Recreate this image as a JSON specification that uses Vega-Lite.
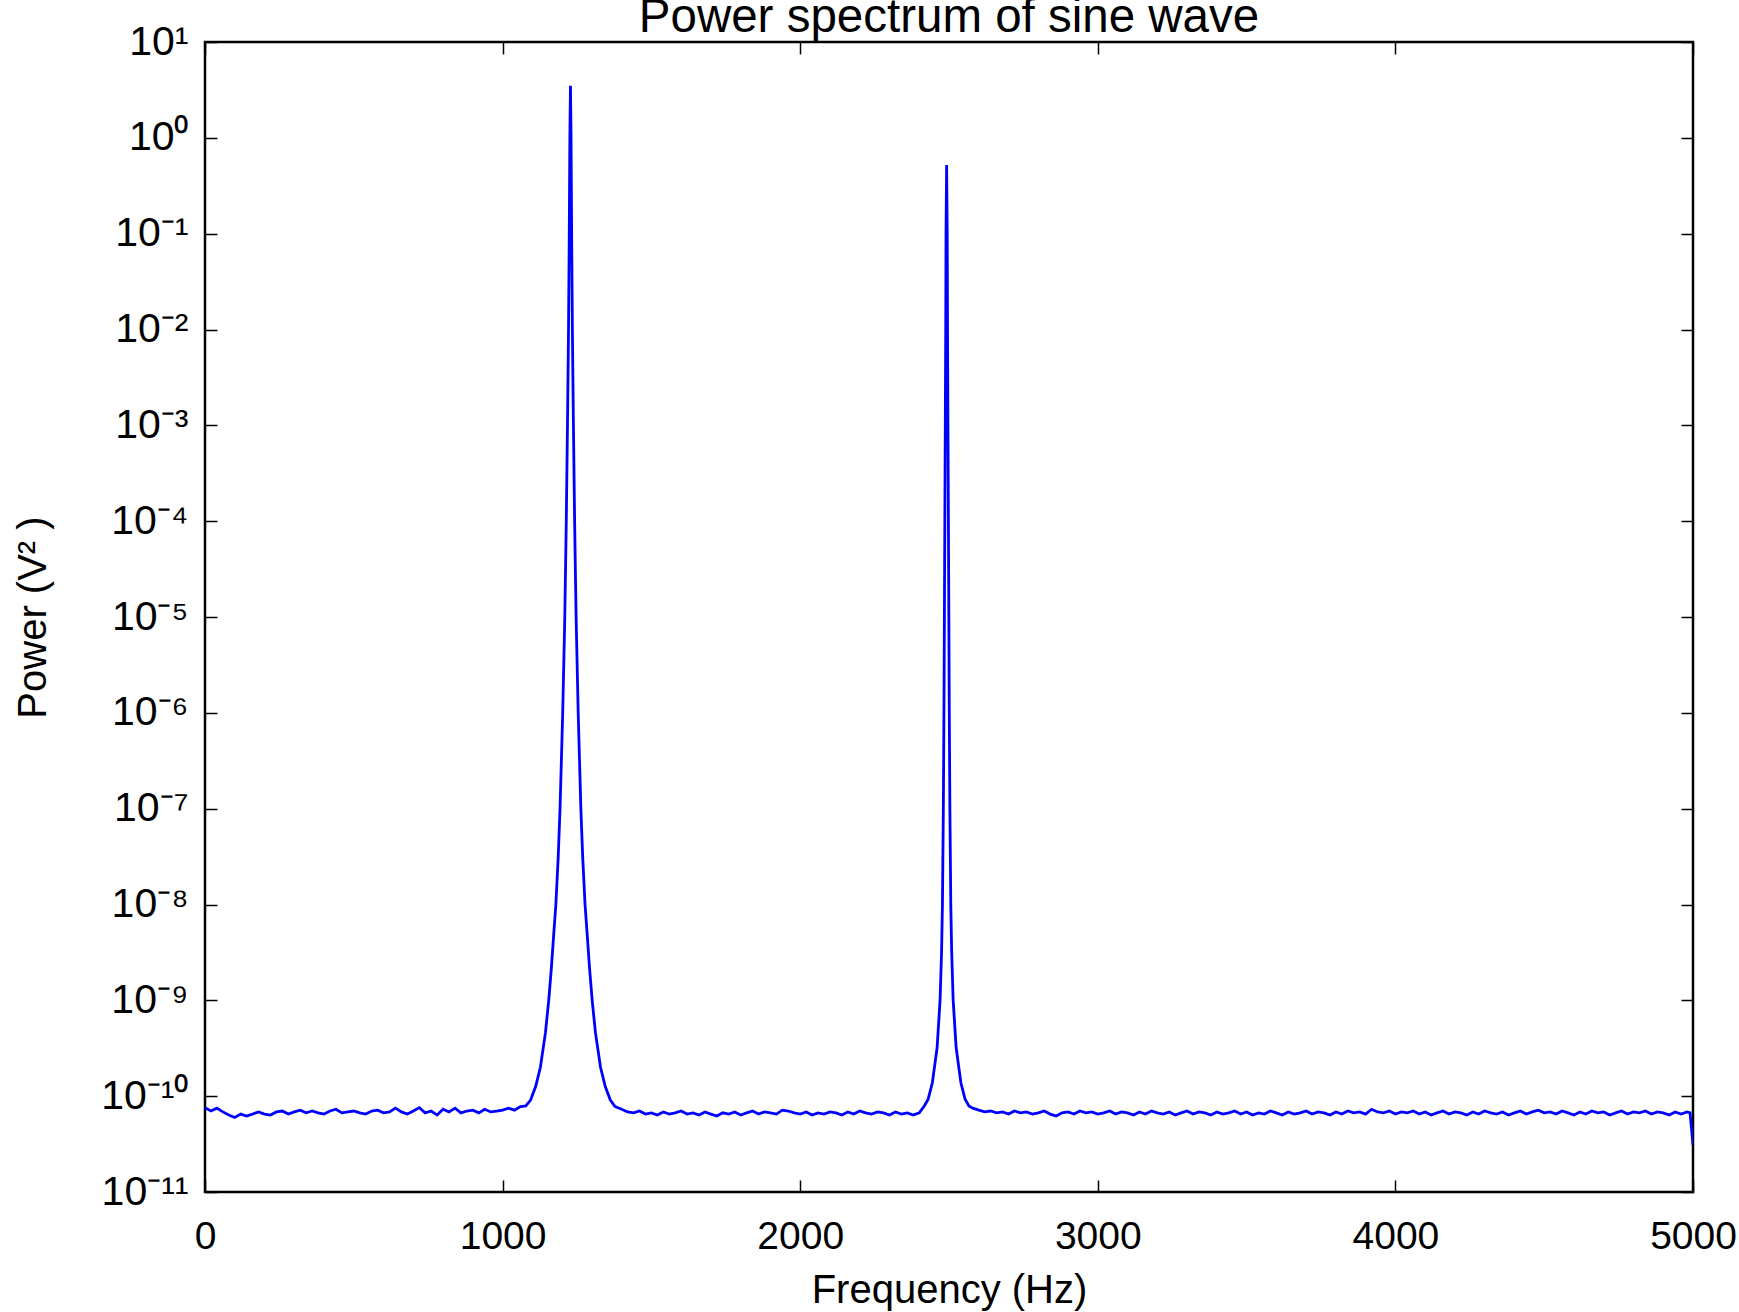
{
 "$schema": "https://vega.github.io/schema/vega-lite/v6.json",
 "width": 1488,
 "height": 1150,
 "autosize": {"type": "none"},
 "padding": {"left": 205, "top": 42, "right": 46, "bottom": 120},
 "background": "white",
 "title": {"text": "Power spectrum of sine wave", "fontSize": 47.5, "font": "Liberation Sans", "fontWeight": "normal", "color": "black", "anchor": "middle", "frame": "group", "offset": -20},
 "config": {
  "view": {"stroke": "black", "strokeWidth": 2.5},
  "axis": {"domain": false, "grid": false, "tickColor": "black", "tickWidth": 1.5, "tickSize": -12, "labelColor": "black", "titleColor": "black", "labelFont": "Liberation Sans", "titleFont": "Liberation Sans", "titleFontWeight": "normal", "labelOverlap": false, "labelFlush": false}
 },
 "data": {"values": [
  {"f":0,"p":7.6e-11},{"f":20,"p":7.0e-11},{"f":40,"p":7.5e-11},{"f":60,"p":6.85e-11},{"f":80,"p":6.35e-11},{"f":100,"p":6.0e-11},{"f":120,"p":6.5e-11},{"f":140,"p":6.2e-11},{"f":160,"p":6.5e-11},{"f":180,"p":6.85e-11},
  {"f":200,"p":6.5e-11},{"f":220,"p":6.35e-11},{"f":240,"p":6.85e-11},{"f":260,"p":7.0e-11},{"f":280,"p":6.5e-11},{"f":300,"p":6.85e-11},{"f":320,"p":7.15e-11},{"f":340,"p":6.7e-11},{"f":360,"p":7.0e-11},{"f":380,"p":6.7e-11},
  {"f":400,"p":6.5e-11},{"f":420,"p":7.0e-11},{"f":440,"p":7.3e-11},{"f":460,"p":6.7e-11},{"f":480,"p":6.85e-11},{"f":500,"p":7.0e-11},{"f":520,"p":6.7e-11},{"f":540,"p":6.5e-11},{"f":560,"p":7.0e-11},{"f":580,"p":7.15e-11},
  {"f":600,"p":6.7e-11},{"f":620,"p":6.85e-11},{"f":640,"p":7.5e-11},{"f":660,"p":6.85e-11},{"f":680,"p":6.5e-11},{"f":700,"p":7.0e-11},{"f":720,"p":7.6e-11},{"f":740,"p":6.7e-11},{"f":760,"p":7.0e-11},{"f":780,"p":6.35e-11},
  {"f":800,"p":7.3e-11},{"f":820,"p":6.85e-11},{"f":840,"p":7.5e-11},{"f":860,"p":6.7e-11},{"f":880,"p":7.0e-11},{"f":900,"p":7.15e-11},{"f":920,"p":6.7e-11},{"f":940,"p":7.3e-11},{"f":960,"p":6.85e-11},{"f":980,"p":7.0e-11},
  {"f":1000,"p":7.15e-11},{"f":1020,"p":7.5e-11},{"f":1040,"p":7.15e-11},{"f":1060,"p":7.8e-11},
  {"f":1078,"p":7.9e-11},{"f":1094,"p":9.1e-11},{"f":1111,"p":1.26e-10},{"f":1127,"p":2.0e-10},{"f":1144,"p":4.6e-10},{"f":1155,"p":1.0e-9},{"f":1164,"p":2.2e-9},{"f":1172,"p":5.0e-9},{"f":1179,"p":1.0e-8},{"f":1187,"p":3.2e-8},
  {"f":1193,"p":1.0e-7},{"f":1202,"p":1.0e-6},{"f":1209,"p":1.0e-5},{"f":1214,"p":1.0e-4},{"f":1218,"p":1.0e-3},{"f":1221.5,"p":0.01},{"f":1224,"p":0.1},{"f":1226,"p":1},{"f":1228,"p":3.5},
  {"f":1230,"p":1},{"f":1232,"p":0.1},{"f":1234.5,"p":0.01},{"f":1238,"p":1.0e-3},{"f":1242,"p":1.0e-4},{"f":1247,"p":1.0e-5},{"f":1254,"p":1.0e-6},{"f":1263,"p":1.0e-7},{"f":1269,"p":3.2e-8},{"f":1277,"p":1.0e-8},
  {"f":1284,"p":5.0e-9},{"f":1292,"p":2.2e-9},{"f":1301,"p":1.0e-9},{"f":1312,"p":4.6e-10},{"f":1329,"p":2.0e-10},{"f":1345,"p":1.26e-10},{"f":1362,"p":9.1e-11},{"f":1378,"p":7.8e-11},
  {"f":1400,"p":7.3e-11},{"f":1420,"p":6.85e-11},{"f":1440,"p":6.7e-11},{"f":1460,"p":7.0e-11},{"f":1480,"p":6.5e-11},{"f":1500,"p":6.7e-11},{"f":1520,"p":6.35e-11},{"f":1540,"p":6.85e-11},{"f":1560,"p":6.5e-11},{"f":1580,"p":6.7e-11},
  {"f":1600,"p":7.0e-11},{"f":1620,"p":6.5e-11},{"f":1640,"p":6.7e-11},{"f":1660,"p":6.35e-11},{"f":1680,"p":6.85e-11},{"f":1700,"p":6.5e-11},{"f":1720,"p":6.2e-11},{"f":1740,"p":6.7e-11},{"f":1760,"p":6.5e-11},{"f":1780,"p":6.85e-11},
  {"f":1800,"p":6.35e-11},{"f":1820,"p":6.7e-11},{"f":1840,"p":7.0e-11},{"f":1860,"p":6.5e-11},{"f":1880,"p":6.85e-11},{"f":1900,"p":6.7e-11},{"f":1920,"p":6.5e-11},{"f":1940,"p":7.15e-11},{"f":1960,"p":7.0e-11},{"f":1980,"p":6.7e-11},
  {"f":2000,"p":6.5e-11},{"f":2020,"p":6.85e-11},{"f":2040,"p":6.35e-11},{"f":2060,"p":6.7e-11},{"f":2080,"p":6.5e-11},{"f":2100,"p":6.85e-11},{"f":2120,"p":6.7e-11},{"f":2140,"p":6.35e-11},{"f":2160,"p":6.85e-11},{"f":2180,"p":6.5e-11},
  {"f":2200,"p":7.0e-11},{"f":2220,"p":6.7e-11},{"f":2240,"p":6.5e-11},{"f":2260,"p":6.85e-11},{"f":2280,"p":6.7e-11},{"f":2300,"p":6.35e-11},{"f":2320,"p":6.85e-11},{"f":2340,"p":6.5e-11},{"f":2360,"p":6.7e-11},{"f":2380,"p":6.35e-11},
  {"f":2400,"p":6.7e-11},
  {"f":2417,"p":7.9e-11},{"f":2430,"p":9.3e-11},{"f":2444,"p":1.38e-10},{"f":2460,"p":3.2e-10},{"f":2470,"p":1.0e-9},{"f":2475,"p":3.2e-9},{"f":2478,"p":1.0e-8},{"f":2481,"p":1.0e-7},{"f":2483,"p":1.0e-6},{"f":2484.5,"p":1.0e-5},
  {"f":2486,"p":1.0e-4},{"f":2487.5,"p":1.0e-3},{"f":2489,"p":0.01},{"f":2490,"p":0.1},{"f":2492,"p":0.52},{"f":2494,"p":0.1},{"f":2495,"p":0.01},{"f":2496.5,"p":1.0e-3},{"f":2498,"p":1.0e-4},{"f":2499.5,"p":1.0e-5},
  {"f":2501,"p":1.0e-6},{"f":2503,"p":1.0e-7},{"f":2506,"p":1.0e-8},{"f":2509,"p":3.2e-9},{"f":2514,"p":1.0e-9},{"f":2524,"p":3.2e-10},{"f":2540,"p":1.38e-10},{"f":2554,"p":9.3e-11},{"f":2567,"p":7.9e-11},
  {"f":2580,"p":7.5e-11},{"f":2600,"p":7.15e-11},{"f":2620,"p":6.85e-11},{"f":2640,"p":7.0e-11},{"f":2660,"p":6.7e-11},{"f":2680,"p":6.85e-11},{"f":2700,"p":6.5e-11},{"f":2720,"p":7.0e-11},{"f":2740,"p":6.7e-11},{"f":2760,"p":6.85e-11},
  {"f":2780,"p":6.5e-11},{"f":2800,"p":6.7e-11},{"f":2820,"p":7.0e-11},{"f":2840,"p":6.5e-11},{"f":2860,"p":6.2e-11},{"f":2880,"p":6.7e-11},{"f":2900,"p":6.85e-11},{"f":2920,"p":6.5e-11},{"f":2940,"p":7.0e-11},{"f":2960,"p":6.7e-11},
  {"f":2980,"p":6.85e-11},{"f":3000,"p":6.5e-11},{"f":3020,"p":6.7e-11},{"f":3040,"p":7.0e-11},{"f":3060,"p":6.5e-11},{"f":3080,"p":6.85e-11},{"f":3100,"p":6.7e-11},{"f":3120,"p":6.35e-11},{"f":3140,"p":6.85e-11},{"f":3160,"p":6.5e-11},
  {"f":3180,"p":7.0e-11},{"f":3200,"p":6.7e-11},{"f":3220,"p":6.5e-11},{"f":3240,"p":6.85e-11},{"f":3260,"p":6.35e-11},{"f":3280,"p":6.7e-11},{"f":3300,"p":7.0e-11},{"f":3320,"p":6.5e-11},{"f":3340,"p":6.85e-11},{"f":3360,"p":6.7e-11},
  {"f":3380,"p":6.35e-11},{"f":3400,"p":6.85e-11},{"f":3420,"p":6.5e-11},{"f":3440,"p":6.7e-11},{"f":3460,"p":7.0e-11},{"f":3480,"p":6.5e-11},{"f":3500,"p":6.85e-11},{"f":3520,"p":6.35e-11},{"f":3540,"p":6.7e-11},{"f":3560,"p":6.5e-11},
  {"f":3580,"p":7.0e-11},{"f":3600,"p":6.7e-11},{"f":3620,"p":6.35e-11},{"f":3640,"p":6.85e-11},{"f":3660,"p":6.5e-11},{"f":3680,"p":6.7e-11},{"f":3700,"p":7.0e-11},{"f":3720,"p":6.5e-11},{"f":3740,"p":6.85e-11},{"f":3760,"p":6.7e-11},
  {"f":3780,"p":6.35e-11},{"f":3800,"p":6.85e-11},{"f":3820,"p":6.5e-11},{"f":3840,"p":7.0e-11},{"f":3860,"p":6.7e-11},{"f":3880,"p":6.85e-11},{"f":3900,"p":6.5e-11},{"f":3920,"p":7.3e-11},{"f":3940,"p":6.85e-11},{"f":3960,"p":6.7e-11},
  {"f":3980,"p":7.0e-11},{"f":4000,"p":6.5e-11},{"f":4020,"p":6.85e-11},{"f":4040,"p":6.7e-11},{"f":4060,"p":7.0e-11},{"f":4080,"p":6.5e-11},{"f":4100,"p":6.85e-11},{"f":4120,"p":6.35e-11},{"f":4140,"p":6.7e-11},{"f":4160,"p":7.0e-11},
  {"f":4180,"p":6.5e-11},{"f":4200,"p":6.85e-11},{"f":4220,"p":6.7e-11},{"f":4240,"p":6.35e-11},{"f":4260,"p":6.85e-11},{"f":4280,"p":6.5e-11},{"f":4300,"p":7.0e-11},{"f":4320,"p":6.7e-11},{"f":4340,"p":6.5e-11},{"f":4360,"p":6.85e-11},
  {"f":4380,"p":6.35e-11},{"f":4400,"p":6.7e-11},{"f":4420,"p":7.0e-11},{"f":4440,"p":6.5e-11},{"f":4460,"p":6.85e-11},{"f":4480,"p":7.15e-11},{"f":4500,"p":6.7e-11},{"f":4520,"p":6.85e-11},{"f":4540,"p":6.5e-11},{"f":4560,"p":7.0e-11},
  {"f":4580,"p":6.7e-11},{"f":4600,"p":6.35e-11},{"f":4620,"p":6.85e-11},{"f":4640,"p":6.5e-11},{"f":4660,"p":7.0e-11},{"f":4680,"p":6.7e-11},{"f":4700,"p":6.85e-11},{"f":4720,"p":6.35e-11},{"f":4740,"p":6.7e-11},{"f":4760,"p":7.0e-11},
  {"f":4780,"p":6.5e-11},{"f":4800,"p":6.85e-11},{"f":4820,"p":6.7e-11},{"f":4840,"p":7.0e-11},{"f":4860,"p":6.5e-11},{"f":4880,"p":6.85e-11},{"f":4900,"p":6.7e-11},{"f":4920,"p":6.35e-11},{"f":4940,"p":6.85e-11},{"f":4960,"p":6.5e-11},
  {"f":4980,"p":6.85e-11},{"f":4990,"p":6.7e-11},{"f":5000,"p":3.1e-11}
 ]},
 "layer": [
  {
   "mark": {"type": "line", "color": "#0000ff", "strokeWidth": 2.8, "clip": true},
   "encoding": {
    "x": {"field": "f", "type": "quantitative", "scale": {"domain": [0, 5000], "nice": false, "zero": false},
          "axis": {"orient": "bottom", "values": [0, 1000, 2000, 3000, 4000, 5000], "format": "d", "labelFontSize": 39, "labelPadding": 37, "title": "Frequency (Hz)", "titleFontSize": 40, "titlePadding": 14}},
    "y": {"field": "p", "type": "quantitative", "scale": {"type": "log", "domain": [1e-11, 10], "nice": false},
          "axis": {"orient": "left", "values": [10, 1, 0.1, 0.01, 0.001, 0.0001, 0.00001, 0.000001, 1e-7, 1e-8, 1e-9, 1e-10, 1e-11],
                   "labelExpr": "datum.value > 5 ? '10¹' : datum.value > 0.5 ? '10⁰' : datum.value > 0.05 ? '10⁻¹' : datum.value > 0.005 ? '10⁻²' : datum.value > 0.0005 ? '10⁻³' : datum.value > 0.00005 ? '10⁻⁴' : datum.value > 0.000005 ? '10⁻⁵' : datum.value > 0.0000005 ? '10⁻⁶' : datum.value > 5e-8 ? '10⁻⁷' : datum.value > 5e-9 ? '10⁻⁸' : datum.value > 5e-10 ? '10⁻⁹' : datum.value > 5e-11 ? '10⁻¹⁰' : '10⁻¹¹'",
                   "labelFontSize": 41, "labelPadding": 29, "title": "Power (V² )", "titleFontSize": 40, "titlePadding": 47}}
   }
  },
  {
   "mark": {"type": "line", "opacity": 0},
   "encoding": {
    "x": {"field": "f", "type": "quantitative", "axis": {"orient": "top", "values": [0, 1000, 2000, 3000, 4000, 5000], "labels": false, "title": null}},
    "y": {"field": "p", "type": "quantitative", "axis": {"orient": "right", "values": [10, 1, 0.1, 0.01, 0.001, 0.0001, 0.00001, 0.000001, 1e-7, 1e-8, 1e-9, 1e-10, 1e-11], "labels": false, "title": null}}
   }
  }
 ],
 "resolve": {"axis": {"x": "independent", "y": "independent"}}
}
